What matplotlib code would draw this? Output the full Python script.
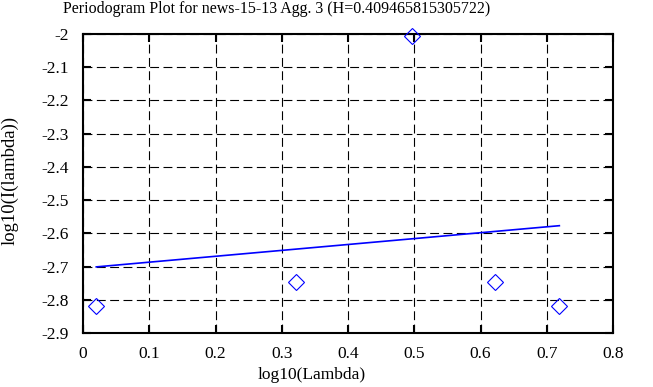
import matplotlib
matplotlib.use("Agg")
import matplotlib.pyplot as plt
import numpy as np

# data
log_lambda = [0.020, 0.321, 0.497, 0.622, 0.719]
log_i = [-2.820, -2.745, -2.005, -2.745, -2.820]
fit_x = [0.020, 0.719]
fit_y = [-2.701, -2.577]

plt.rcParams['font.family'] = ['Liberation Serif', 'DejaVu Serif']
plt.rcParams['font.size'] = 12.5

W, H = 653, 387
fig = plt.figure(figsize=(W / 100, H / 100), dpi=100)
ax = fig.add_axes([83 / W, 1 - 333 / H, 530 / W, 299 / H])

ax.plot(log_lambda, log_i, linestyle='none', marker='D', markersize=8,
        markerfacecolor='none', markeredgecolor='blue', markeredgewidth=0.8,
        clip_on=False, zorder=3)
ax.plot(fit_x, fit_y, color='blue', linewidth=1.2, zorder=3)

ax.set_xlim(0, 0.8)
ax.set_ylim(-2.9, -2.0)
ax.set_xticks(np.arange(0, 0.81, 0.1))
ax.set_xticklabels(['0', '0.1', '0.2', '0.3', '0.4', '0.5', '0.6', '0.7', '0.8'])
ax.set_yticks(np.arange(-2.9, -1.99, 0.1))
ax.set_yticklabels(['-2.9', '-2.8', '-2.7', '-2.6', '-2.5', '-2.4', '-2.3', '-2.2', '-2.1', '-2'])
ax.tick_params(direction='in', length=6, width=1.5, top=True, right=True)
ax.tick_params(axis='x', pad=9)
ax.tick_params(axis='y', pad=10)
ax.grid(True, color='black', linestyle=(0, (8, 4)), linewidth=0.8)
for s in ax.spines.values():
    s.set_linewidth(1.5)

# title sits left of the axes centre, like the original
fig.text(277 / W, 1 - 9 / H, 'Periodogram Plot for news-15-13 Agg. 3 (H=0.409465815305722)',
         ha='center', va='center', fontsize=11.5)
ax.set_xlabel('log10(Lambda)', va='center')
ax.xaxis.set_label_coords((312 - 83) / 530, -(375 - 333) / 299)
ax.set_ylabel('log10(I(lambda))', va='center', fontsize=13.5)
ax.yaxis.set_label_coords((10 - 83) / 530, (333 - 180) / 299)

fig.savefig('out.png', dpi=100, facecolor='white')
